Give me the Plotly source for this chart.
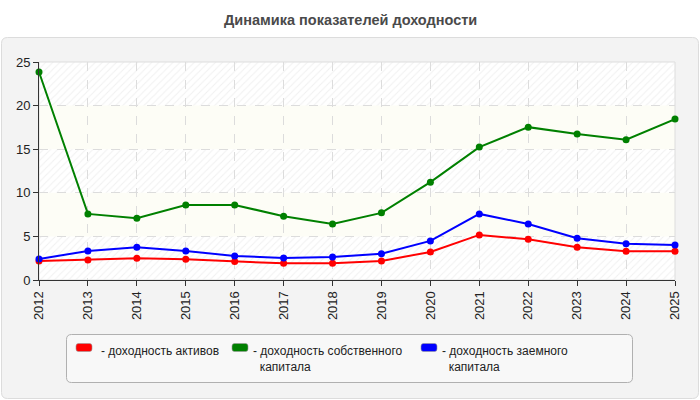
import plotly.graph_objects as go

years = [2012, 2013, 2014, 2015, 2016, 2017, 2018, 2019, 2020, 2021, 2022, 2023, 2024, 2025]
year_labels = [str(y) for y in years]

roa = [2.18, 2.30, 2.49, 2.37, 2.11, 1.91, 1.91, 2.18, 3.22, 5.17, 4.67, 3.75, 3.29, 3.29]
roe = [23.85, 7.58, 7.08, 8.61, 8.61, 7.31, 6.43, 7.70, 11.22, 15.24, 17.53, 16.73, 16.08, 18.45]
rod = [2.41, 3.33, 3.75, 3.33, 2.76, 2.53, 2.64, 3.02, 4.48, 7.58, 6.43, 4.79, 4.17, 4.02]

series_names = ["доходность активов", "доходность собственного капитала", "доходность заемного капитала"]
legend_lines = [["доходность активов"], ["доходность собственного", "капитала"], ["доходность заемного", "капитала"]]
series_colors = ["#ff0000", "#008000", "#0000ff"]
series_values = [roa, roe, rod]

y_ticks = [0, 5, 10, 15, 20, 25]
title_text = "Динамика показателей доходности"

W, H = 700, 400
L, R, T, B = 39, 675, 62, 280
pw, ph = R - L, B - T


def px_x(p):
    return (p - L) / pw


def px_y(p):
    return (B - p) / ph


def rounded_path(x0, y0, x1, y1, r):
    rx = r / pw
    ry = r / ph
    X0, X1 = px_x(x0), px_x(x1)
    Yt, Yb = px_y(y0), px_y(y1)
    return (f"M {X0+rx},{Yt} L {X1-rx},{Yt} Q {X1},{Yt} {X1},{Yt-ry} "
            f"L {X1},{Yb+ry} Q {X1},{Yb} {X1-rx},{Yb} "
            f"L {X0+rx},{Yb} Q {X0},{Yb} {X0},{Yb+ry} "
            f"L {X0},{Yt-ry} Q {X0},{Yt} {X0+rx},{Yt} Z")


fig = go.Figure()

# hatched background bands
hx, hy = [], []
for lo in [0, 10, 20]:
    hx += [years[0], years[-1], years[-1], years[0], years[0], None]
    hy += [lo, lo, lo + 5, lo + 5, lo, None]
fig.add_trace(go.Scatter(
    x=hx, y=hy, mode="lines", fill="toself", line=dict(width=0),
    fillcolor="rgba(0,0,0,0)",
    fillpattern=dict(shape="/", fgcolor="#e2e2e2", bgcolor="rgba(0,0,0,0)", size=5, solidity=0.2),
    hoverinfo="skip", showlegend=False))

for name, vals, col in zip(series_names, series_values, series_colors):
    fig.add_trace(go.Scatter(
        x=years, y=vals, name=name, mode="lines+markers",
        line=dict(color=col, width=2),
        marker=dict(color=col, size=7),
        cliponaxis=False, showlegend=False))

shapes = []
shapes.append(dict(type="path", xref="paper", yref="paper", layer="below",
                   path=rounded_path(1.5, 37.5, 698.5, 398.5, 6),
                   fillcolor="#f3f3f3", line=dict(color="#dcdcdc", width=1)))
shapes.append(dict(type="rect", xref="paper", yref="paper", layer="below",
                   x0=0, x1=1, y0=0, y1=1, fillcolor="#ffffff", line=dict(width=0)))
for lo in [5, 15]:
    shapes.append(dict(type="rect", xref="paper", yref="y", layer="below",
                       x0=0, x1=1, y0=lo, y1=lo + 5, fillcolor="#fdfdf6", line=dict(width=0)))
shapes.append(dict(type="rect", xref="paper", yref="paper", layer="below",
                   x0=0, x1=1, y0=0, y1=1, fillcolor="rgba(0,0,0,0)",
                   line=dict(color="#dddddd", width=1)))
shapes.append(dict(type="path", xref="paper", yref="paper", layer="above",
                   path=rounded_path(66.5, 334.5, 632.5, 382.5, 5),
                   fillcolor="#f8f8f8", line=dict(color="#b0b0b0", width=1)))

annotations = [dict(text="<b>" + title_text + "</b>", xref="paper", yref="paper",
                    x=px_x(350), y=px_y(20), showarrow=False, xanchor="center", yanchor="middle",
                    font=dict(family="Liberation Sans, Arial", size=14.5, color="#4a4a4a"))]

swatch_x = [76, 232, 421]
text_x = [99, 251, 440]
for sx, tx, lines, col in zip(swatch_x, text_x, legend_lines, series_colors):
    shapes.append(dict(type="path", xref="paper", yref="paper", layer="above",
                       path=rounded_path(sx, 343.5, sx + 16, 351.5, 2.5),
                       fillcolor=col, line=dict(color="#999999", width=0.6)))
    txt = "- " + lines[0] + "".join("<br>&nbsp;&nbsp;" + ln for ln in lines[1:])
    annotations.append(dict(text=txt, xref="paper", yref="paper", x=px_x(tx), y=px_y(342),
                            showarrow=False, xanchor="left", yanchor="top", align="left",
                            font=dict(family="Liberation Sans, Arial", size=12, color="#222222")))

fig.update_layout(
    width=W, height=H,
    margin=dict(l=L, r=W - R, t=T, b=H - B, pad=0),
    paper_bgcolor="#ffffff", plot_bgcolor="#ffffff",
    shapes=shapes, annotations=annotations, showlegend=False,
    font=dict(family="Liberation Sans, Arial", size=13, color="#222222"),
)
fig.update_xaxes(range=[years[0], years[-1]], tickmode="array", tickvals=years, ticktext=year_labels,
                 tickangle=-90, showgrid=True, gridcolor="#dcdcdc", griddash="dash", gridwidth=1,
                 showline=True, linecolor="#333333", linewidth=1, ticks="outside", ticklen=5,
                 tickcolor="#333333", zeroline=False, tickfont=dict(size=13, color="#222222"))
fig.update_yaxes(range=[0, 25], tickmode="array", tickvals=y_ticks, ticktext=[str(v) for v in y_ticks],
                 showgrid=True, gridcolor="#dcdcdc", griddash="dash", gridwidth=1,
                 showline=True, linecolor="#333333", linewidth=1, ticks="outside", ticklen=5,
                 tickcolor="#333333", zeroline=False, tickfont=dict(size=13, color="#222222"))

fig.write_html("out.html")
